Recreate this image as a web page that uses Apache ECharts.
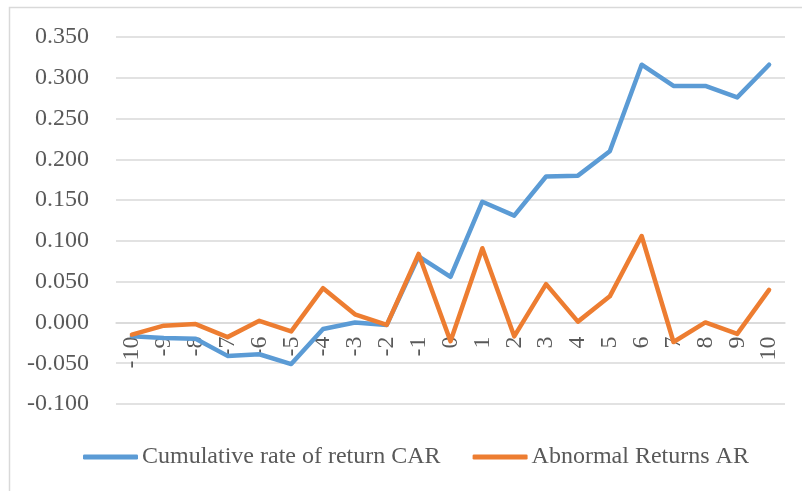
<!DOCTYPE html>
<html>
<head>
<meta charset="utf-8">
<script src="https://cdn.jsdelivr.net/npm/echarts@6/dist/echarts.min.js"></script>
<style>html,body{margin:0;padding:0;background:#fff;}#c{width:802px;height:491px;}</style>
</head>
<body>
<div id="c"></div>
<script>
const categories = ['-10','-9','-8','-7','-6','-5','-4','-3','-2','-1','0','1','2','3','4','5','6','7','8','9','10'];
const carValues = [-0.017,-0.019,-0.020,-0.041,-0.039,-0.051,-0.008,0.000,-0.003,0.081,0.056,0.148,0.131,0.179,0.180,0.210,0.316,0.290,0.290,0.276,0.316];
const arValues = [-0.015,-0.004,-0.002,-0.018,0.002,-0.011,0.042,0.010,-0.003,0.084,-0.023,0.091,-0.017,0.047,0.001,0.032,0.106,-0.024,0.000,-0.014,0.040];
const seriesNames = ['Cumulative rate of return CAR','Abnormal Returns AR'];
const yMin = -0.1, yMax = 0.35, yStep = 0.05;

const FONT = '"Liberation Serif","Times New Roman",serif';
const gridTop = 37, gridBottom = 87, H = 491;
const plotH = H - gridTop - gridBottom;
const zeroOffset = -plotH * (0 - yMin) / (yMax - yMin); // move category axis up to the zero line

const chart = echarts.init(document.getElementById('c'), null, {renderer:'canvas'});
chart.setOption({
  animation: false,
  backgroundColor: '#fff',
  graphic: [{
    type: 'rect', shape: {x: 9.5, y: 7.5, width: 900, height: 600},
    style: {fill: 'none', stroke: '#d9d9d9', lineWidth: 1.5}, silent: true
  }],
  grid: {left: 116, right: 17, top: gridTop, bottom: gridBottom, containLabel: false},
  legend: {
    top: 440, left: 78,
    itemWidth: 55, itemHeight: 5, itemGap: 32,
    icon: 'roundRect',
    textStyle: {fontFamily: FONT, fontSize: 24, color: '#595959', padding: [0,0,0,-1]},
    data: seriesNames
  },
  xAxis: {
    type: 'category', data: categories, boundaryGap: true,
    offset: zeroOffset,
    axisLine: {show: true, onZero: false, lineStyle: {color: '#d9d9d9', width: 1.5}},
    axisTick: {show: false},
    axisLabel: {rotate: 90, margin: 14, fontFamily: FONT, fontSize: 24, color: '#595959', interval: 0}
  },
  yAxis: {
    type: 'value', min: yMin, max: yMax, interval: yStep,
    axisLine: {show: false}, axisTick: {show: false},
    splitLine: {lineStyle: {color: '#d9d9d9', width: 1.5}},
    axisLabel: {margin: 27, fontFamily: FONT, fontSize: 24, color: '#595959', formatter: v => v.toFixed(3)}
  },
  series: [
    {name: seriesNames[0], type: 'line', data: carValues, symbol: 'none', lineStyle: {color: '#5b9bd5', width: 4.5, cap: 'round', join: 'round'}, itemStyle: {color: '#5b9bd5'}},
    {name: seriesNames[1], type: 'line', data: arValues, symbol: 'none', lineStyle: {color: '#ed7d31', width: 4.5, cap: 'round', join: 'round'}, itemStyle: {color: '#ed7d31'}}
  ]
});
</script>
</body>
</html>
